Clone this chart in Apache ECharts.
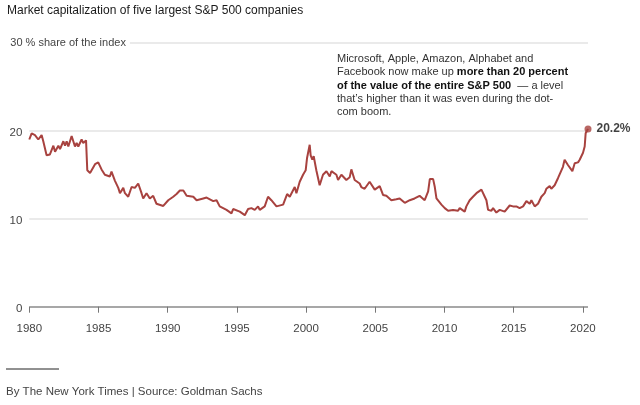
<!DOCTYPE html>
<html>
<head>
<meta charset="utf-8">
<script src="https://cdn.jsdelivr.net/npm/echarts@6/dist/echarts.min.js"></script>
<style>
  html, body { margin: 0; padding: 0; background: #fff; }
  #chart { width: 640px; height: 405px; }
</style>
</head>
<body>
<div id="chart"></div>
<script>
const titleText = 'Market capitalization of five largest S&P 500 companies';
const yUnit = '% share of the index';
const yTicks = [0, 10, 20, 30];
const xTicks = [1980, 1985, 1990, 1995, 2000, 2005, 2010, 2015, 2020];
const years = [
  1980.00, 1980.17, 1980.41, 1980.65, 1980.89, 1981.01, 1981.25, 1981.49, 1981.74, 1981.86,
  1982.10, 1982.22, 1982.46, 1982.58, 1982.70, 1982.82, 1983.06, 1983.30, 1983.42, 1983.54,
  1983.78, 1983.90, 1984.10, 1984.19, 1984.39, 1984.75, 1984.98, 1985.22, 1985.46, 1985.82,
  1985.94, 1986.19, 1986.43, 1986.55, 1986.79, 1986.91, 1987.15, 1987.39, 1987.63, 1987.87,
  1988.11, 1988.23, 1988.47, 1988.71, 1988.95, 1989.19, 1989.68, 1990.04, 1990.40, 1990.64,
  1990.88, 1991.13, 1991.37, 1991.85, 1992.09, 1992.57, 1992.81, 1993.29, 1993.53, 1993.76,
  1994.25, 1994.61, 1994.73, 1995.21, 1995.57, 1995.81, 1996.05, 1996.29, 1996.53, 1996.65,
  1997.01, 1997.25, 1997.49, 1997.86, 1998.34, 1998.63, 1998.82, 1999.18, 1999.30, 1999.54,
  1999.78, 1999.97, 2000.07, 2000.26, 2000.33, 2000.45, 2000.55, 2000.65, 2000.74, 2000.98,
  2001.22, 2001.47, 2001.71, 2001.83, 2002.19, 2002.31, 2002.55, 2002.91, 2003.15, 2003.27,
  2003.51, 2003.87, 2003.99, 2004.23, 2004.59, 2004.96, 2005.32, 2005.56, 2005.80, 2006.16,
  2006.52, 2006.76, 2007.13, 2007.49, 2007.84, 2007.97, 2008.20, 2008.33, 2008.57, 2008.82,
  2008.94, 2009.18, 2009.30, 2009.42, 2009.78, 2010.02, 2010.26, 2010.62, 2010.98, 2011.10,
  2011.46, 2011.58, 2011.82, 2012.06, 2012.31, 2012.67, 2012.91, 2013.03, 2013.15, 2013.39,
  2013.51, 2013.75, 2013.99, 2014.35, 2014.71, 2014.95, 2015.19, 2015.43, 2015.68, 2015.92,
  2016.16, 2016.28, 2016.52, 2016.76, 2017.00, 2017.24, 2017.36, 2017.60, 2017.72, 2017.96,
  2018.20, 2018.32, 2018.56, 2018.68, 2018.92, 2019.24, 2019.41, 2019.65, 2019.77, 2020.01,
  2020.13, 2020.20, 2020.37
];
const values = [
  19.0, 19.7, 19.5, 19.0, 19.5, 18.8, 17.2, 17.3, 18.3, 17.6,
  18.3, 17.9, 18.8, 18.3, 18.8, 18.2, 19.4, 18.2, 18.6, 18.2,
  19.0, 18.6, 18.9, 15.5, 15.2, 16.2, 16.4, 15.6, 15.0, 14.8,
  15.35, 14.3, 13.5, 12.9, 13.5, 12.9, 12.5, 13.6, 13.5, 14.0,
  12.9, 12.3, 12.9, 12.3, 12.6, 11.7, 11.45, 12.1, 12.5, 12.8,
  13.2, 13.2, 12.6, 12.5, 12.1, 12.3, 12.4, 12.0, 12.1, 11.4,
  11.0, 10.6, 11.1, 10.8, 10.4, 11.1, 11.2, 11.0, 11.4, 11.0,
  11.4, 12.5, 12.1, 11.4, 11.6, 12.8, 12.5, 13.6, 12.9, 14.2,
  15.0, 15.5, 16.9, 18.4, 17.2, 16.7, 17.1, 16.9, 15.5, 13.8,
  15.0, 15.4, 14.8, 15.4, 15.0, 14.4, 15.0, 14.4, 14.7, 15.6,
  14.4, 14.0, 13.6, 13.4, 14.2, 13.3, 13.7, 12.7, 12.6, 12.1,
  12.2, 12.3, 11.8, 12.1, 12.3, 12.5, 12.6, 12.8, 12.1, 13.1,
  14.5, 14.5, 13.6, 12.3, 11.6, 11.2, 10.9, 11.0, 10.9, 11.2,
  10.8, 11.4, 12.1, 12.5, 12.9, 13.3, 12.5, 12.1, 11.0, 10.9,
  11.2, 10.7, 11.0, 10.8, 11.5, 11.4, 11.4, 11.2, 11.4, 12.0,
  11.7, 12.1, 11.4, 11.7, 12.5, 12.9, 13.4, 13.7, 13.4, 13.8,
  14.6, 14.7, 15.9, 16.7, 16.1, 15.4, 16.3, 16.4, 16.7, 17.5,
  18.2, 19.7, 20.2
];
const noteLines = [
  'Microsoft, Apple, Amazon, Alphabet and',
  'Facebook now make up {b|more than 20 percent}',
  '{b|of the value of the entire S&P 500}  \u2014 a level',
  'that\u2019s higher than it was even during the dot-',
  'com boom.'
];
const sourceText = 'By The New York Times | Source: Goldman Sachs';

const FONT = '"Liberation Sans", Arial, sans-serif';
const LINE = '#a8423f';
const lineData = years.map((y, i) => [y, values[i]]);
const lastPoint = lineData[lineData.length - 1];

const chart = echarts.init(document.getElementById('chart'), null, { renderer: 'canvas' });
chart.setOption({
  animation: false,
  backgroundColor: '#fff',
  textStyle: { fontFamily: FONT },
  title: {
    text: titleText,
    left: 7, top: 4.5, padding: 0,
    textStyle: { fontFamily: FONT, fontSize: 12, fontWeight: 'normal', color: '#1a1a1a' }
  },
  grid: { left: 29.3, right: 52, top: 42.7, bottom: 98.3, containLabel: false, outerBoundsMode: 'none' },
  xAxis: {
    type: 'value',
    min: xTicks[0],
    max: lastPoint[0],
    offset: 4,
    axisLine: { show: false },
    axisTick: { show: true, customValues: xTicks, length: 6, lineStyle: { color: '#777', width: 1 } },
    axisLabel: {
      customValues: xTicks, margin: 12, fontFamily: FONT, fontSize: 11.5, color: '#444',
      formatter: v => String(v)
    },
    splitLine: { show: false }
  },
  yAxis: {
    type: 'value',
    min: yTicks[0], max: yTicks[yTicks.length - 1], interval: yTicks[1] - yTicks[0],
    axisLine: { show: false },
    axisTick: { show: false },
    splitLine: { show: true, lineStyle: { color: ['#8a8a8a', '#e3e3e3', '#e3e3e3', '#e3e3e3'], width: 1.5 } },
    axisLabel: {
      align: 'left', margin: 21, verticalAlign: 'middle',
      fontFamily: FONT, fontSize: 11.5, color: '#444',
      formatter: v => v === yTicks[yTicks.length - 1] ? `{t|${v} ${yUnit}}` : `{n|${v}}`,
      rich: {
        t: { fontFamily: FONT, fontSize: 11, color: '#444', backgroundColor: '#fff', padding: [2, 4, 2, 2] },
        n: { fontFamily: FONT, fontSize: 11.5, color: '#444', width: 14, align: 'right', padding: [4, 0, 0, 0] }
      }
    }
  },
  series: [
    {
      type: 'line',
      data: lineData,
      showSymbol: false,
      symbol: 'none',
      lineStyle: { color: LINE, width: 2 },
      clip: false,
      z: 3
    },
    {
      type: 'scatter',
      data: [lastPoint],
      symbolSize: 7,
      itemStyle: { color: LINE },
      label: {
        show: true, position: 'right', distance: 5,
        formatter: p => `${p.value[1]}%`,
        fontFamily: FONT, fontSize: 12, fontWeight: 'bold', color: '#121212'
      },
      z: 4
    }
  ],
  graphic: [
    {
      type: 'text', left: 337, top: 52.5,
      style: {
        text: noteLines.join('\n'),
        fontFamily: FONT, fontSize: 11, lineHeight: 13.2, fill: '#333',
        rich: { b: { fontFamily: FONT, fontSize: 11, fontWeight: 'bold', fill: '#121212', lineHeight: 13.2 } }
      }
    },
    {
      type: 'line', shape: { x1: 6, y1: 369, x2: 59, y2: 369 },
      style: { stroke: '#222', lineWidth: 1 }
    },
    {
      type: 'text', left: 6, top: 385.5,
      style: { text: sourceText, fontFamily: FONT, fontSize: 11.5, fill: '#444' }
    }
  ]
});
</script>
</body>
</html>
